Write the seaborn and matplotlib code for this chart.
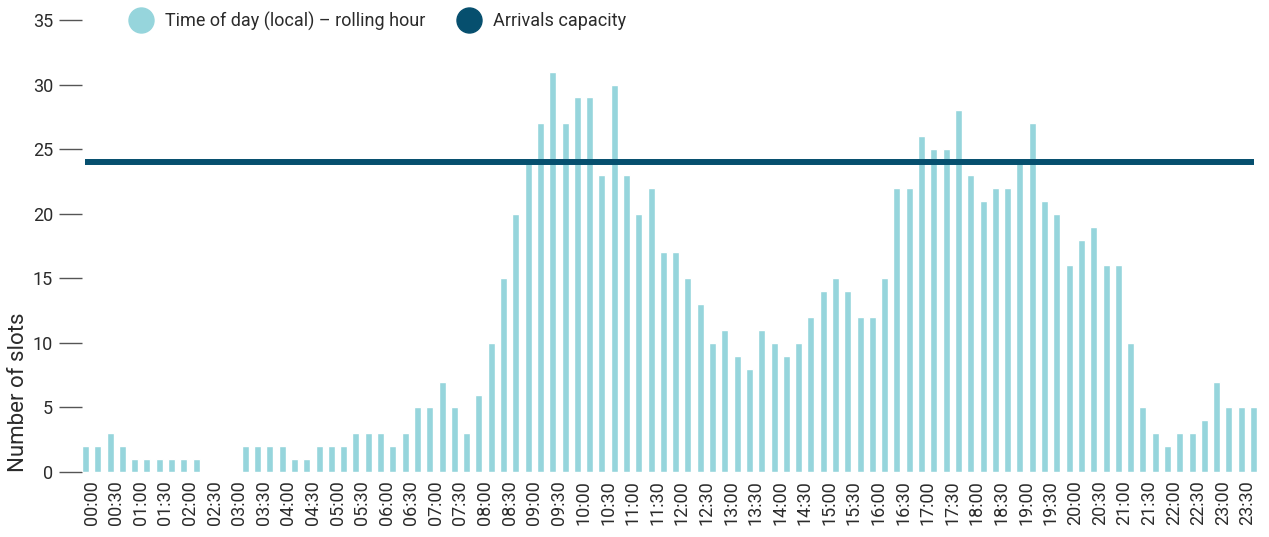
import numpy as np
import pandas as pd
import matplotlib
matplotlib.use("Agg")
import matplotlib.pyplot as plt
from matplotlib.lines import Line2D
import seaborn as sns

# ---- data ----
times = [f"{h:02d}:{m:02d}" for h in range(24) for m in (0, 15, 30, 45)]
slots = [2, 2, 3, 2, 1, 1, 1, 1, 1, 1,
         0, 0, 0,
         2, 2, 2, 2, 1, 1, 2, 2, 2, 3, 3, 3, 2, 3, 5, 5, 7,
         5, 3, 6, 10, 15, 20, 24, 27, 31, 27, 29, 29, 23, 30, 23, 20, 22, 17, 17, 15,
         13, 10, 11, 9, 8, 11, 10, 9, 10, 12, 14, 15, 14, 12, 12, 15, 22, 22, 26, 25,
         25, 28, 23, 21, 22, 22, 24, 27, 21, 20, 16, 18, 19, 16, 16, 10, 5, 3, 2, 3,
         3, 4, 7, 5, 5, 5]
capacity = 24
tick_labels = times[::2]
y_ticks = [0, 5, 10, 15, 20, 25, 30, 35]

BAR = "#96D5DC"
CAP = "#064F6E"
TXT = "#2b2b2b"
BW = 0.57

sns.set_theme(style="white")
plt.rcParams["font.family"] = ["Roboto", "DejaVu Sans"]

df = pd.DataFrame({"time": times, "slots": slots})

fig = plt.figure(figsize=(12.69, 5.37), dpi=100)
ax = fig.add_axes([0.0646, 0.121, 0.926, 0.8418])

sns.barplot(data=df, x="time", y="slots", color=BAR, width=BW,
            saturation=1, ax=ax, order=times)

ax.plot([0, len(times) - 1], [capacity, capacity], color=CAP, lw=4.3,
        solid_capstyle="butt", zorder=3)

ax.set_xlim(-BW / 2, len(times) - 1 + BW / 2)
ax.set_ylim(0, 35)
ax.set_yticks(y_ticks)
ax.set_yticklabels([str(v) for v in y_ticks], fontsize=13, color=TXT)
ax.set_xticks(np.arange(0.5, len(times), 2))
ax.set_xticklabels(tick_labels, rotation=90, fontsize=13, color=TXT)
ax.tick_params(axis="y", length=16.5, width=1.0, color="#555555", pad=4.3, left=True)
ax.tick_params(axis="x", length=0, pad=6)
for s in ax.spines.values():
    s.set_visible(False)
ax.set_xlabel("")
ax.set_ylabel("Number of slots", fontsize=16, color=TXT, loc="bottom")
ax.yaxis.set_label_coords(-0.0452, 0.0)

handles = [Line2D([], [], marker="o", ls="none", markersize=18, color=BAR),
           Line2D([], [], marker="o", ls="none", markersize=18, color=CAP)]
labels = ["Time of day (local) – rolling hour", "Arrivals capacity"]
fig.legend(handles, labels, loc="center left", bbox_to_anchor=(0.097, 0.961),
           ncol=2, frameon=False, fontsize=13, handletextpad=0.3,
           columnspacing=1.45, labelcolor=TXT, borderaxespad=0, borderpad=0)

fig.savefig("out.png", dpi=100)
